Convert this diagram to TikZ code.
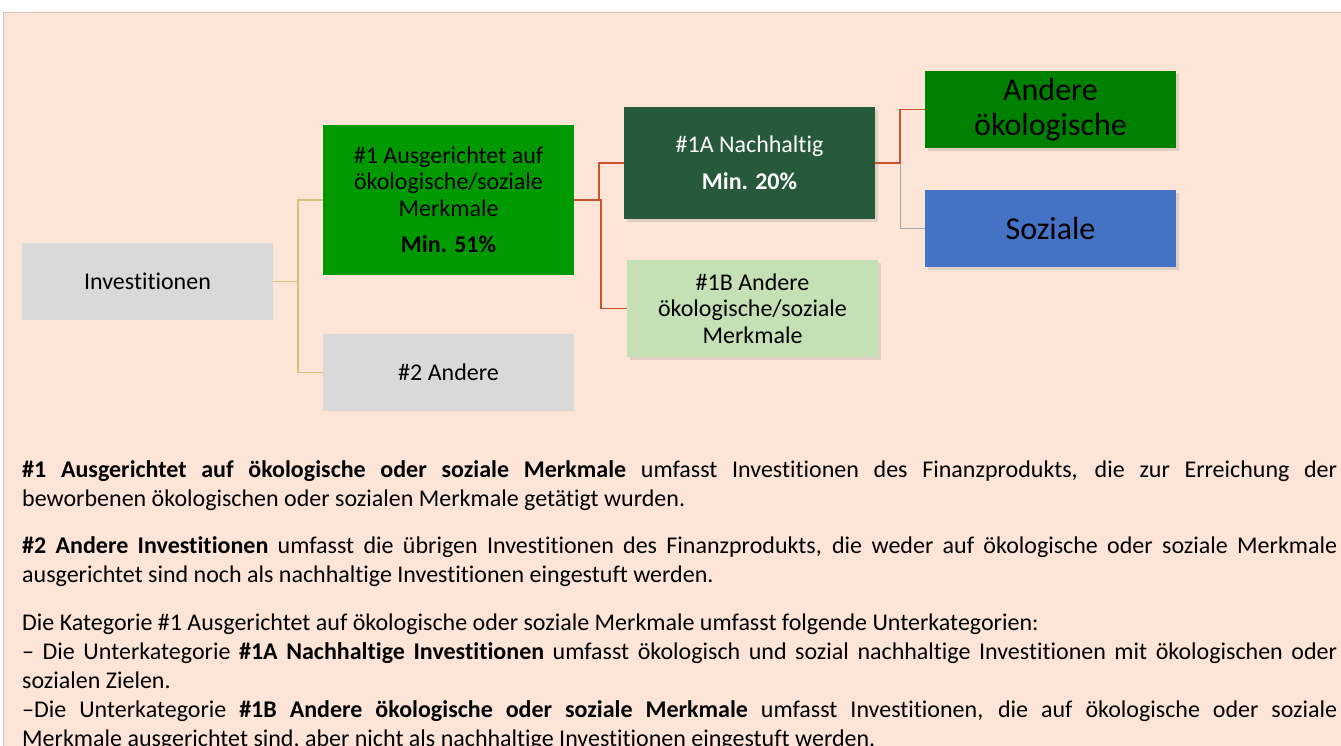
\documentclass[tikz,border=0pt]{standalone}
\usepackage{fontspec}
\setmainfont{Carlito}[Ligatures=NoCommon]
\usetikzlibrary{shadows}

\definecolor{bgpeach}{HTML}{FCE4D6}
\definecolor{boxgray}{HTML}{D9D9D9}
\definecolor{catgreen}{HTML}{009900}
\definecolor{darkgreen}{HTML}{265A3B}
\definecolor{lightgreen}{HTML}{C5E0B4}
\definecolor{ecogreen}{HTML}{008000}
\definecolor{sozblue}{HTML}{4472C4}
\definecolor{linekhaki}{HTML}{D4C17A}
\definecolor{linered}{HTML}{C9532E}
\definecolor{linegray}{HTML}{A5A5A5}

\tikzset{
  catbox/.style={minimum width=251pt, inner sep=0pt, align=center,
    font=\fontsize{24}{26.5}\selectfont},
  bigbox/.style={catbox, minimum height=77pt,
    font=\fontsize{32}{35}\selectfont},
  shadowed/.style={drop shadow={opacity=0.22, shadow xshift=3pt, shadow yshift=-3pt}}
}

\begin{document}
\begin{tikzpicture}[x=1pt,y=-1pt]

\useasboundingbox (0,0) rectangle (1341,746);

% Hintergrund
\fill[bgpeach] (3,12) rectangle (1341,746);
\draw[bgpeach!85!black, line width=0.4pt] (3,746) -- (3,12) -- (1341,12);

% Kategorien
\node[catbox, fill=boxgray, minimum height=77pt] (inv) at (147.5,281.5)
{Investitionen};

\node[catbox, fill=catgreen, minimum height=150pt] (cat1) at (448.5,200)
{\#1 Ausgerichtet auf\\ökologische/soziale\\Merkmale\\[10pt]\textbf{Min. 51\%}};

\node[catbox, fill=boxgray, minimum height=77pt] (cat2) at (448.5,372.5)
{\#2 Andere};

% Unterkategorien
\node[catbox, shadowed, fill=darkgreen, text=white, minimum height=112pt] (sub1a) at (749.5,163)
{\#1A Nachhaltig\\[11pt]\textbf{Min. 20\%}};

\node[catbox, shadowed, fill=lightgreen, minimum height=97pt] (sub1b) at (752.5,308.5)
{\#1B Andere\\ökologische/soziale\\Merkmale};

\node[bigbox, shadowed, fill=ecogreen] (eco) at (1050.5,109.5)
{Andere\\ökologische};

\node[bigbox, shadowed, fill=sozblue] (soz) at (1050.5,228.5)
{Soziale};

% Verbindungen
\coordinate (j1) at (298,281.5);
\coordinate (j2) at (599,200);
\coordinate (j3) at (900,163);

\draw[linekhaki, line width=1.2pt] (inv.east) -- (j1);
\draw[linekhaki, line width=1.2pt] (j1) |- (cat1.west);
\draw[linekhaki, line width=1.2pt] (j1) |- (cat2.west);

\draw[linered, line width=1.5pt] (cat1.east) -- (j2) |- (sub1a.west);
\draw[linered, line width=1.5pt] (j2) -- ++(2,0) |- (sub1b.west);

\draw[linegray, line width=1pt] (j3) |- (soz.west);
\draw[linered, line width=1.5pt] (sub1a.east) -- (j3) |- (eco.west);

% Erlaeuterungen
\node[anchor=north west, inner sep=0pt, text width=1315pt, align=justify,
  font=\fontsize{24}{29}\selectfont] (legend) at (22,460)
{\setlength{\parskip}{18.5pt}\setlength{\parindent}{0pt}\hyphenpenalty=10000 \exhyphenpenalty=10000
\textbf{\#1 Ausgerichtet auf ökologische oder soziale Merkmale} umfasst Investitionen des Finanzprodukts, die zur Erreichung der\linebreak{} beworbenen ökologischen oder sozialen Merkmale getätigt wurden.

\textbf{\#2 Andere Investitionen} umfasst die übrigen Investitionen des Finanzprodukts, die weder auf ökologische oder soziale Merkmale ausgerichtet sind noch als nachhaltige Investitionen eingestuft werden.

Die Kategorie \#1 Ausgerichtet auf ökologische oder soziale Merkmale umfasst folgende Unterkategorien:\\
– Die Unterkategorie \textbf{\#1A Nachhaltige Investitionen} umfasst ökologisch und sozial nachhaltige Investitionen mit ökologischen oder sozialen Zielen.\\
–Die Unterkategorie \textbf{\#1B Andere ökologische oder soziale Merkmale} umfasst Investitionen, die auf ökologische oder soziale\linebreak{} Merkmale ausgerichtet sind, aber nicht als nachhaltige Investitionen eingestuft werden.};

\end{tikzpicture}
\end{document}
